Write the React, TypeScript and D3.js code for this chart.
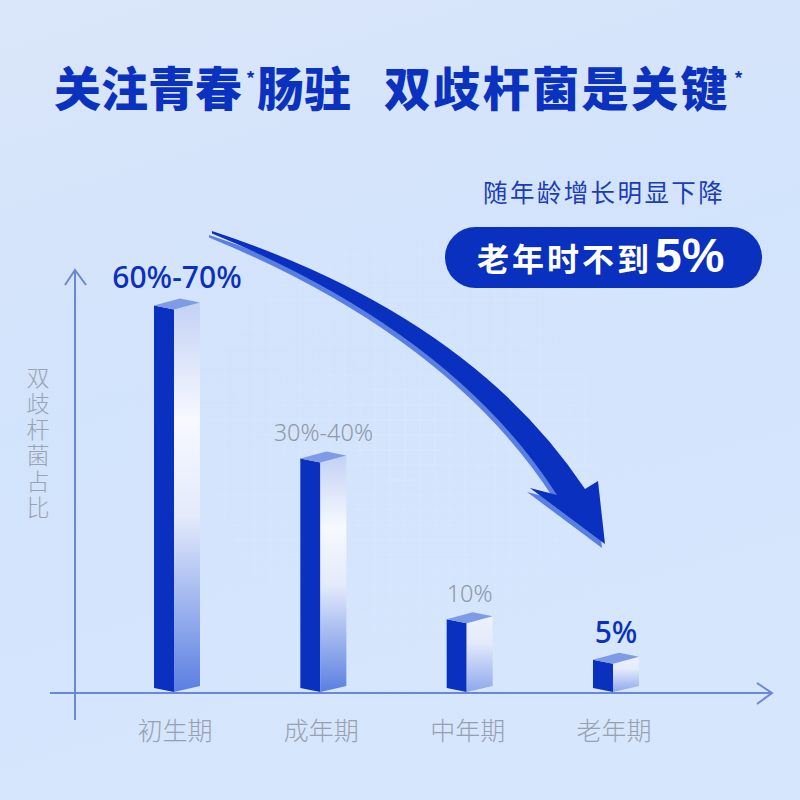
import React from "react";
import * as d3 from "d3";

const categories = ["初生期", "成年期", "中年期", "老年期"];
const values = [65, 39, 11.7, 4.8];
const valueLabels = ["60%-70%", "30%-40%", "10%", "5%"];
const highlight = [true, false, false, true];
const yLabel = "双歧杆菌占比";

const W = 800;
const H = 800;
const BASE_Y = 692;
const LEFT_W = 20;
const RIGHT_W = 26;

const CJK = "'Noto Sans CJK SC', 'Noto Sans', sans-serif";
const NUM = "'Noto Sans', 'Open Sans', sans-serif";

export default function App() {
  const x = d3.scalePoint<string>().domain(categories).range([174, 613]);
  const y = d3.scaleLinear().domain([0, 70]).range([BASE_Y, BASE_Y - 412]);

  const poly = (pts: [number, number][]) => {
    const p = d3.path();
    pts.forEach((pt, i) => (i === 0 ? p.moveTo(pt[0], pt[1]) : p.lineTo(pt[0], pt[1])));
    p.closePath();
    return p.toString();
  };

  // decorative arrow
  const arrow = (() => {
    const p = d3.path();
    p.moveTo(212, 231);
    p.quadraticCurveTo(470, 316, 585, 489);
    p.lineTo(598, 481);
    p.lineTo(605, 544);
    p.lineTo(530, 488);
    p.lineTo(557, 495);
    p.quadraticCurveTo(452, 332, 212, 233.5);
    p.closePath();
    return p.toString();
  })();

  const gridLines: number[] = d3.range(0, 60).map((i) => i * 15);

  return (
    <svg
      width={W}
      height={H}
      viewBox={`0 0 ${W} ${H}`}
      style={{ position: "absolute", left: 0, top: 0, display: "block" }}
    >
      <defs>
        <linearGradient id="bg" x1="0" y1="0" x2="0.3" y2="1">
          <stop offset="0" stopColor="#dae6f9" />
          <stop offset="0.5" stopColor="#d2e3fc" />
          <stop offset="1" stopColor="#d5e6fd" />
        </linearGradient>
        <radialGradient id="gridFade" cx="0.5" cy="0.55" r="0.45">
          <stop offset="0" stopColor="#fff" stopOpacity="1" />
          <stop offset="1" stopColor="#fff" stopOpacity="0" />
        </radialGradient>
        <mask id="gridMask">
          <rect x="0" y="0" width={W} height={H} fill="url(#gridFade)" />
        </mask>
        <linearGradient id="rightFace" x1="0" y1="0" x2="0" y2="1">
          <stop offset="0" stopColor="#c3d1f5" />
          <stop offset="0.3" stopColor="#f7f9ff" />
          <stop offset="0.55" stopColor="#e3eafb" />
          <stop offset="1" stopColor="#5a7fe2" />
        </linearGradient>
        <linearGradient id="rightFaceShort" x1="0" y1="0" x2="0" y2="1">
          <stop offset="0" stopColor="#eef2fd" />
          <stop offset="0.35" stopColor="#e4eafb" />
          <stop offset="1" stopColor="#8ea8ec" />
        </linearGradient>
      </defs>

      <rect x={0} y={0} width={W} height={H} fill="url(#bg)" />

      {/* faint background grid */}
      <g mask="url(#gridMask)" stroke="#ffffff" strokeOpacity={0.17} strokeWidth={1}>
        {gridLines.map((g) => (
          <line key={"v" + g} x1={g} x2={g} y1={0} y2={H} />
        ))}
        {gridLines.map((g) => (
          <line key={"h" + g} x1={0} x2={W} y1={g} y2={g} />
        ))}
      </g>

      {/* title */}
      <g fill="#0a32bf" fontFamily={CJK} fontWeight={900} fontSize={47}>
        <text x={54} y={106}>关注青春</text>
        <text x={246} y={86} fontSize={18} fontWeight={700}>*</text>
        <text x={257} y={106}>肠驻</text>
        <text x={384} y={106} letterSpacing={2.4}>双歧杆菌是关键</text>
        <text x={734} y={86} fontSize={18} fontWeight={700}>*</text>
      </g>

      {/* subtitle and badge */}
      <text
        x={483}
        y={202}
        fontFamily={CJK}
        fontSize={24.5}
        fontWeight={400}
        letterSpacing={2.4}
        fill="#1b3db5"
      >
        随年龄增长明显下降
      </text>
      <rect x={445} y={227} width={317} height={61} rx={30.5} fill="#0a30bf" />
      <text x={477} y={271} fontFamily={CJK} fontWeight={700} fontSize={32} letterSpacing={3} fill="#ffffff">
        老年时不到
      </text>
      <text
        x={655}
        y={272}
        fontFamily="'Liberation Sans', Arial, sans-serif"
        fontWeight={700}
        fontSize={48}
        fill="#ffffff"
      >
        5%
      </text>

      {/* axes */}
      <g stroke="#6a87d8" strokeWidth={2} fill="none">
        <line x1={75} x2={75} y1={270} y2={720} />
        <polyline points="65,285 75,270 86,285" />
        <line x1={50} x2={772} y1={693} y2={693} />
        <polyline points="757,683 772,693 757,704" />
      </g>

      {/* y label, vertical */}
      <text
        x={38}
        y={366}
        fontFamily={CJK}
        fontSize={23}
        fontWeight={300}
        fill="#9aa3b3"
        letterSpacing={3}
        style={{ writingMode: "vertical-rl" as any }}
      >
        {yLabel}
      </text>

      {/* arrow */}
      <path d={arrow} fill="#5a7fe2" transform="translate(-3,4)" />
      <path d={arrow} fill="#0a30bf" />

      {/* bars */}
      {categories.map((c, i) => {
        const fx = x(c) as number;
        const ty = y(values[i]);
        const by = BASE_Y;
        const short = by - ty < 120;
        return (
          <g key={c}>
            <path
              d={poly([
                [fx - LEFT_W, ty - 4],
                [fx, ty],
                [fx, by],
                [fx - LEFT_W, by - 4],
              ])}
              fill="#0a30c0"
            />
            <path
              d={poly([
                [fx, ty],
                [fx + RIGHT_W, ty - 7],
                [fx + RIGHT_W, by - 6],
                [fx, by],
              ])}
              fill={short ? "url(#rightFaceShort)" : "url(#rightFace)"}
            />
            <path
              d={poly([
                [fx - LEFT_W, ty - 4],
                [fx + 6, ty - 11],
                [fx + RIGHT_W, ty - 7],
                [fx, ty],
              ])}
              fill="#7f9be6"
            />
            <text
              x={fx + 3}
              y={ty - 21}
              textAnchor="middle"
              fontFamily={NUM}
              fontSize={highlight[i] ? 30 : 23.5}
              fontWeight={highlight[i] ? 500 : 300}
              fill={highlight[i] ? "#0a30bf" : "#8f98a8"}
            >
              {valueLabels[i]}
            </text>
            <text
              x={fx + 1}
              y={740}
              textAnchor="middle"
              fontFamily={CJK}
              fontSize={25}
              fontWeight={300}
              fill="#98a0b0"
            >
              {c}
            </text>
          </g>
        );
      })}
    </svg>
  );
}
